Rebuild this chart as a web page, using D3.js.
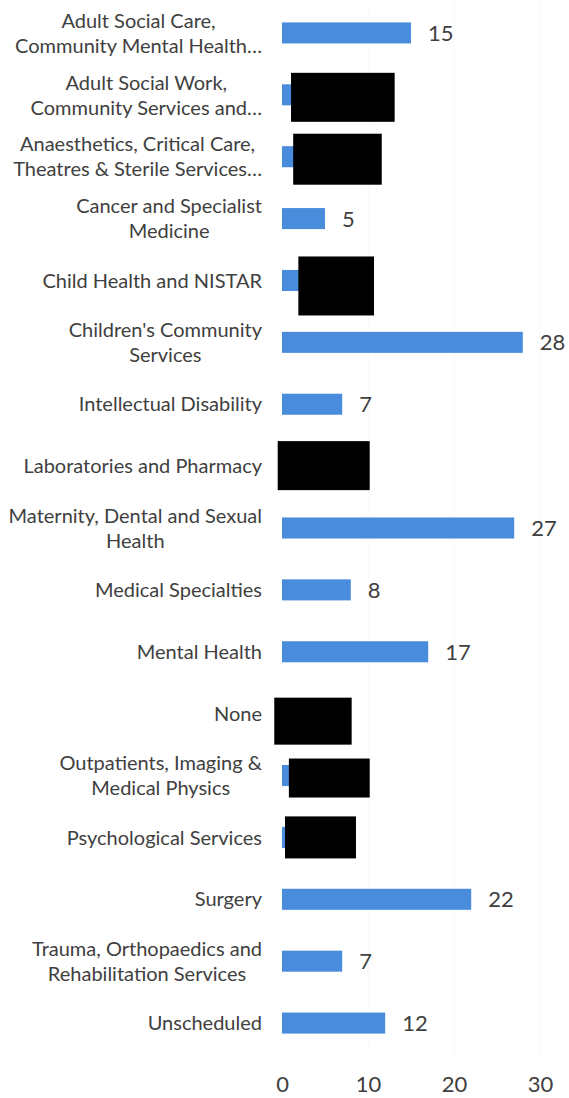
<!DOCTYPE html>
<html>
<head>
<meta charset="utf-8">
<script src="https://cdn.jsdelivr.net/npm/d3@7"></script>
<style>
  html, body { margin: 0; padding: 0; background: #ffffff; }
  svg { display: block; }
  text { font-family: Lato, "Open Sans", sans-serif; }
</style>
</head>
<body>
<svg id="chart" width="569" height="1098"></svg>
<script>
// Directorates (each entry is the list of wrapped label lines)
const categories = [
  ["Adult Social Care,", "Community Mental Health…"],
  ["Adult Social Work,", "Community Services and…"],
  ["Anaesthetics, Critical Care,", "Theatres & Sterile Services…"],
  ["Cancer and Specialist", "Medicine"],
  ["Child Health and NISTAR"],
  ["Children's Community", "Services"],
  ["Intellectual Disability"],
  ["Laboratories and Pharmacy"],
  ["Maternity, Dental and Sexual", "Health"],
  ["Medical Specialties"],
  ["Mental Health"],
  ["None"],
  ["Outpatients, Imaging &", "Medical Physics"],
  ["Psychological Services"],
  ["Surgery"],
  ["Trauma, Orthopaedics and", "Rehabilitation Services"],
  ["Unscheduled"]
];

// Count per directorate (redacted rows hold estimates)
const values = [15, 8, 7, 5, 6, 28, 7, 6, 27, 8, 17, 4, 6, 4, 22, 7, 12];

// Rows whose count is blacked out
const redacted = [false, true, true, false, true, false, false, true, false, false, false, true, true, true, false, false, false];

// Extent of each blackout box, in axis units horizontally
const redactFrom = [null, 1.05, 1.3, null, 1.9, null, null, -0.5, null, null, null, -0.9, 0.8, 0.35, null, null, null];
const redactTo   = [null, 13.1, 11.6, null, 10.7, null, null, 10.2, null, null, null, 8.1, 10.2, 8.6, null, null, null];
// ...and vertically, as offsets from the row centre
const redactTop    = [null, -22, -23, null, -24, null, null, -25, null, null, null, -16, -17, -21, null, null, null];
const redactBottom = [null, 27, 28, null, 35, null, null, 24, null, null, null, 31, 22, 21, null, null, null];

const xTicks = [0, 10, 20, 30];

const svg = d3.select("#chart");
const plotLeft = 282, plotRight = 540;

const x = d3.scaleLinear().domain([0, 30]).range([plotLeft, plotRight]);
const y = d3.scaleBand()
  .domain(d3.range(categories.length))
  .range([2, 1054])
  .paddingInner(0.66)
  .paddingOuter(0.33);

// faint vertical gridlines
svg.append("g")
  .selectAll("line")
  .data(xTicks.slice(1))
  .join("line")
  .attr("x1", d => x(d)).attr("x2", d => x(d))
  .attr("y1", 2).attr("y2", 1054)
  .attr("stroke", "#f8f8f8")
  .attr("stroke-width", 1);

// bars
svg.append("g")
  .selectAll("rect")
  .data(values)
  .join("rect")
  .attr("x", x(0))
  .attr("y", (d, i) => y(i))
  .attr("width", d => x(d) - x(0))
  .attr("height", y.bandwidth())
  .attr("fill", "#4a8cdc");

// value labels
svg.append("g")
  .selectAll("text")
  .data(values.map((v, i) => ({ v, i })).filter(d => !redacted[d.i]))
  .join("text")
  .attr("x", d => x(d.v) + 17)
  .attr("y", d => y(d.i) + y.bandwidth() / 2)
  .attr("dy", "0.36em")
  .attr("font-size", 22)
  .attr("fill", "#404040")
  .text(d => d.v);

// category labels: wrapped lines centred on each other, block right-aligned
const labelRight = 262, lineGap = 25;
const labelG = svg.append("g");
categories.forEach((lines, i) => {
  const cy = y(i) + y.bandwidth() / 2;
  const g = labelG.append("g");
  const texts = lines.map((line, k) =>
    g.append("text")
      .attr("font-size", 20)
      .attr("fill", "#404040")
      .attr("text-anchor", "middle")
      .attr("y", cy + (k - (lines.length - 1) / 2) * lineGap)
      .attr("dy", "0.36em")
      .text(line));
  const w = d3.max(texts, t => t.node().getComputedTextLength());
  texts.forEach(t => t.attr("x", labelRight - w / 2));
});

// x axis tick labels
const axis = svg.append("g")
  .attr("transform", "translate(0,1076)")
  .call(d3.axisBottom(x).tickValues(xTicks).tickSize(0).tickPadding(0));
axis.select(".domain").remove();
axis.selectAll("text")
  .attr("font-size", 22)
  .attr("fill", "#404040")
  .style("font-family", "Lato, 'Open Sans', sans-serif");

// blackout boxes
svg.append("g")
  .selectAll("rect")
  .data(values.map((v, i) => i).filter(i => redacted[i]))
  .join("rect")
  .attr("x", i => x(redactFrom[i]))
  .attr("y", i => y(i) + y.bandwidth() / 2 + redactTop[i])
  .attr("width", i => x(redactTo[i]) - x(redactFrom[i]))
  .attr("height", i => redactBottom[i] - redactTop[i])
  .attr("fill", "#000000");
</script>
</body>
</html>
